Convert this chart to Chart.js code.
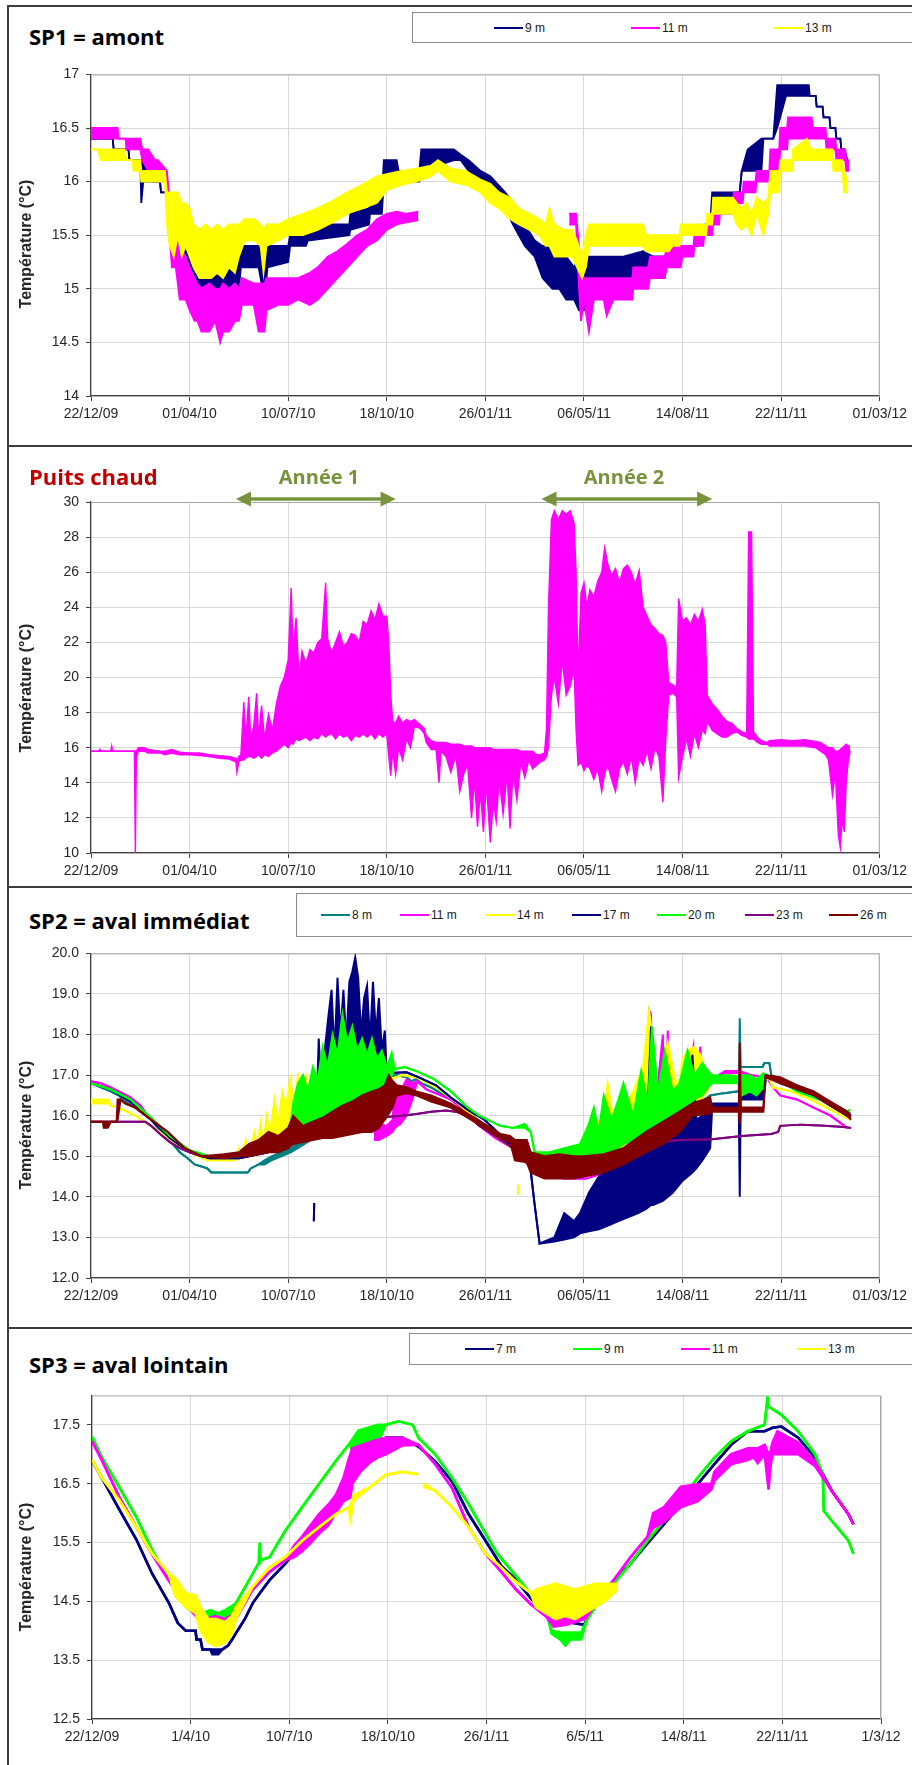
<!DOCTYPE html>
<html>
<head>
<meta charset="utf-8">
<script src="https://cdn.jsdelivr.net/npm/chart.js@4/dist/chart.umd.min.js"></script>
<style>
body{margin:0;background:#fff;}
#page{position:relative;width:912px;height:1765px;overflow:hidden;font-family:'Liberation Sans',Arial,sans-serif;}
.ln{position:absolute;background:#3c3c3c;}
canvas{position:absolute;}
.ttl{position:absolute;font-family:'Open Sans',sans-serif;font-weight:700;font-size:22px;line-height:1;white-space:nowrap;transform:translateY(-50%);z-index:2}
.ann{position:absolute;font-family:'Open Sans',sans-serif;font-weight:700;font-size:20px;line-height:1;white-space:nowrap;transform:translate(-50%,-50%);color:#77933C;z-index:2}
.ytl{position:absolute;font-weight:700;font-size:16px;line-height:1;white-space:nowrap;transform:translate(-50%,-50%) rotate(-90deg);color:#262626;z-index:2}
.lgb{position:absolute;border:1.5px solid #8c8c8c;box-sizing:border-box;background:#fff;z-index:2}
.sw{position:absolute;height:2px;width:29px;z-index:3}
.lt{position:absolute;font-size:12px;line-height:1;transform:translateY(-50%);color:#1a1a1a;z-index:3}
</style>
</head>
<body>
<div id="page">
  <div class="ln" style="left:8px;top:5px;width:904px;height:1.5px"></div>
  <div class="ln" style="left:7px;top:5px;width:1.5px;height:1760px"></div>
  <div class="ln" style="left:8px;top:445px;width:904px;height:1.5px"></div>
  <div class="ln" style="left:8px;top:886px;width:904px;height:1.5px"></div>
  <div class="ln" style="left:8px;top:1327px;width:904px;height:1.5px"></div>
  <canvas id="c1" width="912" height="367" style="left:0;top:59px"></canvas>
  <canvas id="c2" width="912" height="403" style="left:0;top:480px"></canvas>
  <canvas id="c3" width="912" height="370" style="left:0;top:938px"></canvas>
  <canvas id="c4" width="912" height="369" style="left:1px;top:1380px"></canvas>
</div>
<script>
// x values are days since 22/12/09, temperatures in degC
// [day, value] or [day, low, high] when the trace is a dense band
const dayTicks = [0, 100, 200, 300, 400, 500, 600, 700, 800];

// ---- SP1 = amont
const sp1Labels = ['9 m', '11 m', '13 m'];
const sp1Ticks = [14, 14.5, 15, 15.5, 16, 16.5, 17];
const sp1_9m = [[0,16.4],[22,16.4],[23,16.3],[38,16.3],[39,16.2],[50,16.2],[51,15.8,16.2],[53,16.0,16.2],[58,16.0,16.2],[62,16.0],[70,16.0],[71,15.9],[77,15.9],[79,15.5,15.9],[82,15.3,15.7],[90,15.3,15.6],[96,15.1,15.6],[100,15.1,15.5],[105,15.1,15.3],[110,14.9,15.3],[118,14.9,15.4],[125,14.9,15.3],[132,14.9,15.4],[138,15.0,15.3],[145,15.0,15.2],[150,15.0,15.3],[152,15.2,15.4],[170,15.2,15.4],[174,15.0,15.3],[177,15.0,15.3],[179,15.2,15.4],[200,15.25,15.4],[202,15.4,15.5],[218,15.4,15.55],[220,15.45,15.6],[262,15.5,15.6],[263,15.55,15.7],[282,15.6,15.75],[283,15.7,15.8],[295,15.7,15.85],[297,16.0,16.2],[310,16.0,16.2],[312,16.0,16.1],[333,16.0,16.1],[335,16.1,16.3],[368,16.2,16.3],[375,16.2,16.25],[383,16.1,16.2],[395,16.0,16.1],[405,15.95,16.05],[420,15.75,15.9],[428,15.6,15.8],[440,15.4,15.6],[450,15.3,15.45],[458,15.1,15.4],[468,15.0,15.4],[475,15.0,15.3],[482,14.9,15.3],[490,14.9,15.2],[495,14.8,15.3],[500,14.8,15.25],[503,15.1,15.3],[540,15.1,15.3],[560,15.1,15.35],[570,15.3],[598,15.3],[600,15.4],[615,15.4],[617,15.5],[622,15.5],[624,15.6],[628,15.6],[630,15.8,15.9],[652,15.8,15.9],[655,15.9],[658,15.9],[660,16.1],[666,16.1,16.3],[680,16.1,16.4],[682,16.4],[692,16.4],[696,16.5,16.9],[705,16.8,16.9],[728,16.8,16.9],[729,16.8],[735,16.8],[736,16.7],[742,16.7],[743,16.6],[749,16.6],[750,16.5],[755,16.5],[756,16.4],[760,16.4],[761,16.3],[764,16.3],[767,16.2]];
const sp1_11m = [[0,16.4,16.5],[27,16.4,16.5],[28,16.4],[35,16.4],[36,16.3,16.4],[50,16.3,16.4],[52,16.2,16.3],[58,16.1,16.3],[65,16.1,16.2],[68,16.0,16.2],[77,16.0,16.1],[79,15.6,15.9],[82,15.2,15.8],[86,15.2,15.5],[90,14.9,15.4],[96,14.9,15.3],[100,14.8,15.2],[105,14.7,15.1],[108,14.7,15.05],[112,14.6,15.0],[120,14.6,15.05],[126,14.7,15.0],[131,14.5,15.0],[134,14.6,15.05],[140,14.6,15.0],[146,14.7,15.05],[150,14.7,15.0],[153,14.85,15.1],[165,14.85,15.05],[170,14.6,15.05],[176,14.6,15.05],[178,14.8,15.1],[190,14.85,15.1],[200,14.85,15.1],[210,14.9,15.1],[222,14.85,15.15],[230,14.9,15.2],[240,15.0,15.3],[250,15.1,15.35],[260,15.2,15.42],[270,15.3,15.5],[280,15.4,15.55],[290,15.45,15.65],[300,15.55,15.7],[310,15.6,15.72],[320,15.62,15.7],[332,15.64,15.72],[333,null],[485,15.6,15.7],[492,15.6,15.7],[495,15.0,15.4],[497,14.7,15.2],[500,14.9,15.1],[505,14.6,15.1],[510,14.9,15.1],[520,14.9,15.1],[523,14.75,15.1],[530,14.9,15.1],[549,14.9,15.1],[550,15.0,15.2],[565,15.0,15.2],[567,15.1,15.3],[582,15.1,15.3],[584,15.2,15.4],[598,15.2,15.4],[600,15.3,15.4],[611,15.3,15.4],[612,15.4,15.5],[621,15.4,15.5],[622,15.5,15.6],[630,15.5,15.6],[631,15.6,15.7],[637,15.6,15.7],[638,15.7,15.8],[651,15.7,15.8],[652,15.8,15.9],[661,15.8,15.9],[662,15.9,16.0],[674,15.9,16.0],[675,16.0,16.1],[688,16.0,16.1],[689,16.1,16.3],[698,16.1,16.3],[699,16.3,16.5],[706,16.3,16.5],[707,16.4,16.6],[731,16.4,16.6],[732,16.4,16.5],[745,16.4,16.5],[746,16.3,16.4],[755,16.3,16.4],[756,16.2,16.3],[765,16.2,16.3],[766,16.1,16.2],[769,16.1,16.2]];
const sp1_13m = [[0,16.3],[7,16.3],[10,16.2,16.3],[34,16.2,16.3],[36,16.2],[42,16.2],[43,16.1,16.2],[50,16.1,16.2],[51,16.0,16.1],[75,16.0,16.1],[77,15.6,15.9],[80,15.4,15.9],[84,15.3,15.9],[88,15.5,15.9],[92,15.3,15.8],[96,15.4,15.8],[100,15.3,15.75],[104,15.2,15.6],[110,15.1,15.55],[116,15.1,15.6],[122,15.1,15.55],[128,15.15,15.6],[134,15.1,15.55],[140,15.2,15.6],[146,15.15,15.6],[150,15.3,15.6],[156,15.45,15.65],[166,15.45,15.65],[172,15.4,15.6],[175,15.15,15.55],[178,15.4,15.6],[190,15.45,15.6],[200,15.5,15.65],[215,15.5,15.7],[230,15.55,15.75],[245,15.62,15.82],[260,15.7,15.9],[275,15.75,15.97],[290,15.8,16.05],[300,15.92,16.07],[315,15.97,16.1],[330,16.0,16.12],[345,16.05,16.15],[352,16.1,16.2],[365,16.0,16.12],[380,15.97,16.1],[395,15.9,16.02],[405,15.8,15.98],[414,15.75,15.9],[425,15.65,15.85],[434,15.6,15.75],[445,15.55,15.7],[455,15.5,15.65],[461,15.4,15.6],[465,15.4,15.75],[470,15.3,15.6],[480,15.3,15.55],[488,15.3,15.55],[493,15.2,15.45],[498,15.1,15.3],[502,15.2,15.5],[505,15.4,15.6],[560,15.4,15.6],[563,15.35,15.5],[586,15.35,15.5],[590,15.4,15.5],[597,15.4,15.5],[598,15.5,15.6],[624,15.5,15.6],[625,15.6,15.7],[630,15.6,15.7],[631,15.7,15.85],[651,15.7,15.85],[655,15.6,15.8],[660,15.55,15.75],[665,15.6,15.8],[670,15.5,15.7],[675,15.7,15.85],[682,15.5,15.8],[687,15.7,15.85],[689,15.9,16.1],[698,15.9,16.1],[699,16.1,16.2],[711,16.1,16.2],[712,16.2,16.3],[726,16.2,16.4],[730,16.2,16.3],[752,16.2,16.3],[753,16.1,16.2],[762,16.1,16.2],[764,15.9,16.1],[767,15.9,16.0]];

// ---- Puits chaud
const pcTicks = [10, 12, 14, 16, 18, 20, 22, 24, 26, 28, 30];
const pc_11m = [[0,15.8],[8,15.8],[9,15.8,15.9],[11,15.8],[20,15.8],[21,15.8,16.1],[22,15.8],[44,15.8],[45,10.0,15.8],[46,15.4,15.8],[48,15.8,16.0],[54,15.8,16.0],[58,15.7,15.9],[70,15.7,15.8],[75,15.6,15.8],[82,15.7,15.9],[90,15.6,15.75],[100,15.6,15.7],[110,15.55,15.7],[120,15.5,15.6],[130,15.4,15.55],[140,15.35,15.5],[147,15.2,15.4],[148,14.6,15.3],[150,15.2,15.5],[152,15.3,15.6],[155,15.3,18.6],[157,15.4,16.4],[160,15.5,18.9],[162,15.5,16.5],[165,15.4,17.2],[168,15.5,19.1],[170,15.6,16.6],[173,15.4,18.4],[176,15.6,16.5],[180,15.5,17.9],[184,15.7,17.0],[188,15.8,18.5],[192,16.0,19.5],[196,16.2,20.0],[200,16.0,21.0],[203,16.3,25.1],[205,16.2,21.5],[208,16.5,23.4],[211,16.4,20.0],[214,16.5,21.5],[218,16.6,20.8],[222,16.4,21.6],[226,16.6,21.4],[230,16.5,22.0],[234,16.8,22.2],[238,16.6,25.4],[240,16.7,22.2],[244,16.8,21.4],[248,16.5,22.0],[252,16.8,22.6],[256,16.6,21.8],[260,16.7,22.0],[264,16.4,22.5],[268,16.7,22.4],[272,16.6,22.0],[276,16.8,23.2],[280,16.6,23.0],[284,16.8,23.8],[288,16.5,23.3],[292,16.8,24.2],[296,16.6,23.5],[300,16.8,23.5],[302,15.5,22.0],[304,14.4,19.0],[306,15.8,17.5],[309,14.5,17.4],[312,16.0,17.8],[316,15.3,17.4],[320,16.5,17.6],[324,16.0,17.5],[328,17.2,17.6],[334,17.1,17.3],[338,16.8,17.1],[340,16.3,16.7],[345,15.9,16.4],[350,15.9,16.3],[353,14.0,16.3],[355,15.8,16.3],[360,15.5,16.3],[365,14.6,16.2],[370,15.6,16.2],[374,13.5,16.2],[378,14.5,16.1],[382,15.0,16.1],[386,12.0,16.1],[389,14.2,16.0],[392,11.5,16.0],[395,13.5,16.0],[398,11.2,16.0],[401,14.0,16.0],[405,10.6,16.0],[408,13.0,15.9],[411,11.8,15.9],[414,14.2,15.9],[418,12.2,15.9],[422,14.5,15.9],[425,11.4,15.9],[428,14.6,15.9],[432,13.0,15.9],[436,15.2,15.8],[440,14.3,15.8],[444,15.3,15.8],[448,14.8,15.8],[452,15.0,15.6],[456,15.2,15.6],[460,15.3,15.7],[462,15.5,17.1],[464,16.0,24.0],[467,19.0,29.0],[470,20.0,29.5],[474,18.5,29.0],[478,21.0,29.5],[482,19.0,29.3],[486,19.5,29.5],[490,20.5,28.8],[492,17.0,26.0],[494,15.0,20.0],[497,15.2,24.8],[500,14.7,25.4],[503,15.0,24.0],[506,14.8,25.0],[510,14.2,24.6],[514,14.8,25.5],[518,13.5,26.0],[521,14.5,27.4],[524,15.0,26.5],[528,14.2,25.8],[532,13.5,26.2],[536,14.8,25.4],[540,15.2,26.2],[544,14.5,26.4],[548,15.5,26.0],[552,14.0,25.3],[556,15.4,26.1],[560,15.0,24.0],[564,15.8,23.5],[568,14.8,23.0],[572,16.0,22.8],[576,15.5,22.5],[580,12.9,22.4],[583,16.5,22.0],[586,19.0,19.7],[590,19.1,19.6],[594,18.9,19.4],[596,14.3,24.5],[600,15.5,23.2],[604,16.5,23.4],[608,15.5,23.0],[612,16.8,23.6],[616,16.0,23.2],[620,17.0,23.9],[623,16.8,23.0],[625,17.5,19.0],[630,17.0,18.5],[635,16.8,18.2],[640,16.6,17.8],[645,16.6,17.5],[650,16.8,17.4],[655,16.9,17.1],[660,16.7,16.9],[665,16.6,16.8],[667,16.5,28.3],[670,16.5,28.3],[672,16.5,16.9],[676,16.3,16.6],[680,16.2,16.4],[686,16.2,16.3],[688,16.1,16.4],[700,16.1,16.45],[712,16.1,16.4],[724,16.1,16.45],[735,16.0,16.35],[740,15.8,16.3],[745,15.6,16.1],[748,15.3,16.0],[752,13.3,16.0],[755,14.5,15.8],[758,11.0,15.8],[760,10.3,15.9],[762,12.0,16.0],[764,11.2,16.1],[766,14.0,16.2],[768,15.2,16.1],[770,15.8,16.1]];
const anneeSpans = [[147, 309], [457, 630]];
const anneeLabels = ['Année 1', 'Année 2'];

// ---- SP2 = aval immédiat
const sp2Labels = ['8 m', '11 m', '14 m', '17 m', '20 m', '23 m', '26 m'];
const sp2Ticks = [12, 13, 14, 15, 16, 17, 18, 19, 20];
const sp2_8m = [[0,16.8],[10,16.7],[20,16.6],[28,16.5],[36,16.35],[45,16.2],[53,16.05],[61,15.9],[68,15.7],[75,15.5],[83,15.3],[90,15.1],[98,14.95],[105,14.8],[112,14.75],[118,14.7],[122,14.6],[159,14.6],[162,14.7],[170,14.8],[176,14.8,14.9],[183,14.9,15.0],[193,15.0,15.1],[203,15.1,15.2],[213,15.25,15.35],[223,15.4,15.5],[232,15.6],[240,15.8],[250,16.0],[260,16.2],[270,16.45],[280,16.65],[290,16.85],[297,16.95],[310,17.0],[320,16.95],[325,16.85],[330,16.9],[335,16.8],[345,16.7],[355,16.55],[365,16.4],[375,16.25],[385,16.05],[395,15.85],[405,15.65],[415,15.45],[425,15.3],[440,15.05],[455,14.8],[470,14.7],[485,14.65],[500,14.65],[515,14.7],[530,14.85],[545,15.05],[560,15.25],[575,15.5],[590,15.75],[605,16.05],[620,16.35],[628,16.5],[640,16.55],[657,16.6],[658,16.6,18.4],[659,17.2],[681,17.2],[683,17.3],[688,17.3],[690,17.0],[700,16.9],[710,16.8],[720,16.7],[730,16.6],[740,16.45],[750,16.3],[760,16.2],[770,16.05]];
const sp2_11m = [[0,16.85],[10,16.8],[20,16.7],[28,16.6],[40,16.45],[50,16.25],[61,15.9],[75,15.6],[90,15.3],[98,15.15],[105,15.05],[112,15.0],[122,14.95],[150,14.95],[160,15.0],[180,15.15],[200,15.3],[215,15.45],[230,15.6],[245,15.85],[255,16.0],[265,16.2],[275,16.45],[285,16.7],[287,16.8],[288,15.4,16.8],[292,15.4,15.8],[300,15.5,15.75],[306,15.6,15.9],[308,15.7,16.8],[314,15.8,16.6],[320,16.0,16.9],[326,16.4,16.8],[331,16.85],[340,16.65],[350,16.55],[365,16.4],[380,16.1],[394,15.75],[410,15.45],[428,15.2],[445,14.9],[462,14.6],[479,14.45],[502,14.45],[515,14.55],[529,14.8],[545,15.1],[563,15.4],[566,15.6,18.6],[568,15.6,18.5],[570,15.6],[580,15.8,18.0],[582,15.8],[585,15.9,18.1],[587,16.0],[600,16.2],[611,16.4,17.7],[613,16.5],[618,16.5,17.7],[620,16.6],[630,16.9],[643,17.05,17.1],[658,17.05,17.1],[670,17.0],[685,16.95],[692,16.7],[699,16.5],[716,16.4],[733,16.2],[750,16.0],[767,15.7]];
const sp2_14m = [[0,16.3,16.4],[18,16.3,16.4],[20,16.25],[28,16.2],[45,16.0],[61,15.75],[75,15.5],[90,15.25],[105,15.05],[118,14.9],[145,14.9],[150,14.95,15.2],[152,15.0],[157,15.0,15.4],[160,15.05],[166,15.1,15.6],[168,15.15],[172,15.15,15.8],[175,15.2],[178,15.2,16.0],[182,15.3,15.6],[186,15.3,16.4],[190,15.4,15.8],[194,15.4,16.6],[198,15.45,16.2],[202,15.5,16.9],[206,15.55,16.3],[210,15.55,17.0],[214,15.6,16.6],[218,15.6,17.0],[222,15.65,16.5],[226,15.7,16.8],[230,15.8],[260,16.2],[280,16.55],[300,16.85],[315,17.0],[330,16.95],[350,16.7],[370,16.35],[394,15.85],[410,15.5],[428,15.2],[432,15.2],[432.5,null],[433,14.05],[433.4,14.3],[433.8,null],[434,15.2],[445,14.95],[460,14.85],[480,14.8],[495,14.8],[500,14.8,15.3],[510,14.85,15.6],[520,14.9,16.1],[524,14.95,16.8],[532,15.0,15.6],[540,15.1,16.2],[550,15.2,16.6],[560,15.3,17.2],[566,15.4,18.6],[570,15.5,17.8],[575,15.6,16.4],[585,15.8,17.8],[595,16.0,16.6],[600,16.1,17.4],[605,16.2,17.6],[612,16.3,17.7],[618,16.4,17.5],[625,16.6,17.0],[630,16.9],[688,16.9],[692,16.7],[710,16.6],[730,16.4],[750,16.15],[770,15.9]];
const sp2_17m = [[0,16.8],[20,16.65],[40,16.35],[61,15.9],[80,15.45],[100,15.1],[120,14.95],[150,14.95],[180,15.1],[200,15.25],[215,15.4],[225,15.5],[225.5,null],[226,13.4],[226.4,13.85],[226.8,null],[228,15.55],[231,15.55,17.9],[234,15.6,16.4],[237,15.6,17.6],[241,15.65,18.5],[244,15.7,19.1],[247,15.7,17.5],[250,15.75,19.4],[253,15.8,18.0],[256,15.8,19.1],[259,15.85,17.8],[262,15.9,19.3],[265,15.9,19.55],[268,15.95,19.9],[271,16.0,19.4],[274,16.0,18.0],[277,16.05,18.9],[280,16.1,19.2],[283,16.2,17.8],[286,16.3,19.3],[289,16.4,18.0],[292,16.5,18.9],[295,16.7,17.6],[298,16.9,18.1],[300,17.05],[320,17.07],[332,16.95],[350,16.75],[365,16.45],[382,16.15],[399,15.9],[410,15.65],[428,15.2],[440,15.0],[445,14.85],[450,13.8],[455,12.85],[470,12.9,13.0],[480,12.95,13.6],[490,13.0,13.4],[496,13.1,13.6],[505,13.15,14.1],[515,13.2,14.5],[525,13.3,14.7],[535,13.4,14.9],[545,13.5,15.0],[555,13.6,15.1],[563,13.7,15.2],[568,13.8,18.2],[570,13.8,15.3],[580,13.9,15.4],[590,14.1,15.5],[600,14.4,15.7],[610,14.6,17.5],[614,14.7,15.9],[620,14.9,16.0],[628,15.2,16.1],[630,16.2,16.3],[657,16.2,16.3],[658,14.0,16.3],[659,16.4,16.6],[682,16.4,16.6],[685,17.0],[700,16.8],[716,16.65],[733,16.5],[750,16.25],[770,15.95]];
const sp2_20m = [[0,16.8],[20,16.65],[40,16.4],[61,15.95],[80,15.5],[100,15.15],[120,15.0],[150,15.0],[180,15.15],[200,15.3],[205,15.35,16.3],[210,15.4,16.8],[215,15.45,17.0],[220,15.5,16.6],[225,15.55,17.2],[230,15.6,16.9],[235,15.7,17.7],[240,15.75,17.2],[245,15.8,18.0],[250,15.85,17.5],[255,15.9,18.5],[260,15.95,17.8],[265,16.0,18.2],[270,16.1,17.6],[275,16.15,17.9],[280,16.2,17.5],[285,16.3,17.9],[290,16.4,17.4],[295,16.5,17.6],[300,16.6,17.2],[305,17.0,17.55],[308,17.15],[318,17.2],[330,17.1],[348,16.9],[365,16.6],[382,16.2],[394,16.0],[415,15.75],[428,15.7],[440,15.7,15.8],[446,15.6],[450,15.1],[465,14.95,15.1],[480,14.85,15.2],[496,14.9,15.3],[505,14.95,15.8],[510,15.0,16.2],[515,15.05,15.6],[520,15.1,16.5],[528,15.15,15.9],[535,15.2,16.4],[540,15.3,16.8],[550,15.4,16.0],[558,15.5,17.1],[565,15.6,16.3],[569,15.7,18.2],[575,15.8,16.6],[582,15.9,17.6],[590,16.0,16.6],[597,16.05,16.8],[605,16.2,17.6],[612,16.4,17.0],[620,16.5,17.3],[626,16.7,17.1],[630,16.8,17.0],[650,16.8,17.0],[658,16.8,16.95],[660,16.5,17.0],[668,16.6,17.0],[675,16.5,16.9],[682,16.7,17.05],[686,17.0],[700,16.85],[716,16.6],[733,16.45],[750,16.3],[767,16.1],[770,16.15]];
const sp2_23m = [[0,15.85],[55,15.85],[61,15.75],[70,15.55],[80,15.35],[90,15.2],[100,15.1],[112,15.0],[150,15.0],[165,15.05],[180,15.15],[200,15.3],[220,15.55],[240,15.75],[260,15.85],[275,15.92],[290,15.95],[300,15.97],[315,16.0],[330,16.04],[345,16.1],[360,16.13],[370,16.1],[382,16.0],[394,15.75],[410,15.5],[428,15.2],[445,14.75],[455,14.6],[470,14.55],[496,14.5],[510,14.6],[529,14.8],[546,15.05],[563,15.3],[580,15.35],[597,15.4],[630,15.42],[660,15.5],[690,15.55],[697,15.6],[699,15.75],[720,15.78],[740,15.76],[760,15.73],[771,15.7]];
const sp2_26m = [[0,15.85],[12,15.85],[13,15.7,15.85],[17,15.7,15.85],[20,15.85],[26,15.85],[27,15.9,16.4],[30,16.4],[35,16.3],[45,16.2],[61,15.9],[78,15.6],[95,15.2],[112,15.0],[135,14.95,15.05],[150,15.0,15.1],[160,15.0,15.3],[170,15.05,15.4],[180,15.1,15.6],[190,15.1,15.5],[200,15.2,15.7],[205,15.3,16.0],[215,15.35,15.75],[225,15.4,15.85],[235,15.45,15.95],[245,15.45,16.1],[255,15.5,16.25],[265,15.55,16.35],[275,15.6,16.5],[285,15.6,16.6],[292,15.7,16.65],[298,15.9,16.75],[302,16.05,17.0],[306,16.2,16.85],[310,16.5,16.75],[320,16.55,16.7],[330,16.5,16.6],[345,16.35,16.5],[365,16.2,16.3],[382,15.95,16.05],[399,15.7,15.8],[415,15.45,15.55],[425,15.35,15.5],[430,14.9,15.4],[442,14.85,15.4],[446,14.6,15.1],[460,14.45,15.0],[475,14.45,15.05],[490,14.45,15.0],[500,14.5,15.0],[520,14.6,15.05],[540,14.8,15.2],[563,15.1,15.6],[580,15.3,15.85],[597,15.6,16.1],[610,16.0,16.3],[628,16.05,16.45],[630,16.1,16.2],[657,16.1,16.2],[658,15.8,17.8],[659,16.1,16.2],[682,16.1,16.2],[684,16.95,17.0],[699,16.8,16.95],[716,16.65,16.75],[733,16.5,16.6],[750,16.25,16.35],[767,16.0,16.1],[771,15.9,16.0]];

// ---- SP3 = aval lointain
const sp3Labels = ['7 m', '9 m', '11 m', '13 m'];
const sp3Ticks = [12.5, 13.5, 14.5, 15.5, 16.5, 17.5];
const sp3_7m = [[0,16.9],[10,16.6],[28,16.05],[45,15.55],[61,14.97],[78,14.47],[87,14.13],[95,14.0],[105,14.0],[106,13.85],[110,13.85],[112,13.68],[120,13.68],[122,13.6,13.68],[128,13.6,13.68],[132,13.68],[138,13.75],[142,13.85],[146,13.96],[155,14.2],[163,14.47],[172,14.68],[180,14.86],[196,15.14],[213,15.48],[230,15.81],[247,16.26],[264,16.77],[281,17.1],[298,17.28],[315,17.28],[331,17.13],[348,16.88],[365,16.54],[382,15.98],[399,15.53],[415,15.1],[428,14.9],[445,14.55],[462,14.25],[468,14.19],[499,14.1],[505,14.3],[513,14.6],[529,14.85],[546,15.14],[563,15.48],[580,15.81],[597,16.15],[614,16.49],[631,16.83],[648,17.16],[665,17.39],[682,17.39],[690,17.45],[699,17.47],[716,17.28],[733,16.94],[743,16.6],[750,16.38],[767,15.98],[772,15.81]];
const sp3_9m = [[0,17.3],[10,16.95],[28,16.43],[45,15.93],[61,15.37],[78,14.86],[95,14.41],[108,14.24],[112,14.1,14.3],[120,14.1,14.35],[128,14.15,14.3],[135,14.15,14.35],[140,14.2,14.4],[146,14.47],[163,14.97],[169,15.15],[170,15.15,15.5],[171,15.2],[180,15.25],[196,15.7],[213,16.1],[230,16.49],[247,16.88],[262,17.2],[264,16.9,17.25],[270,17.1,17.4],[280,17.15,17.45],[290,17.2,17.5],[298,17.5],[311,17.56],[325,17.5],[331,17.28],[348,17.0],[365,16.6],[382,16.15],[399,15.65],[411,15.31],[428,14.97],[445,14.63],[462,14.24],[466,13.95,14.0],[475,13.85,13.97],[480,13.75,13.97],[485,13.85,13.97],[496,13.85,13.97],[502,14.19],[513,14.47],[529,14.8],[546,15.14],[563,15.53],[580,15.87],[597,16.21],[614,16.6],[631,16.94],[648,17.22],[665,17.39],[682,17.5],[685,17.98],[686,17.8],[689,17.78],[699,17.67],[716,17.39],[733,17.0],[741,16.66],[742,16.04],[750,15.87],[767,15.53],[772,15.31]];
const sp3_11m = [[0,17.22],[10,16.9],[28,16.26],[45,15.76],[61,15.3],[78,14.85],[95,14.45],[108,14.2],[115,13.95,14.2],[125,13.9,14.25],[135,13.95,14.2],[146,14.2,14.3],[163,14.7],[180,15.0],[196,15.2],[205,15.25,15.45],[213,15.35,15.6],[222,15.5,15.8],[230,15.65,15.98],[240,15.8,16.15],[247,16.0,16.3],[255,16.2,16.6],[260,16.25,16.9],[262,16.26,17.0],[264,16.5,17.1],[272,16.7,17.15],[281,16.85,17.2],[290,16.95,17.25],[298,17.0,17.28],[315,17.15,17.28],[331,17.16],[348,16.83],[365,16.43],[382,15.76],[399,15.31],[415,15.0],[430,14.7],[445,14.45],[460,14.25],[468,14.07,14.6],[480,14.1,14.5],[490,14.15,14.6],[500,14.2,14.55],[513,14.5],[529,14.86],[546,15.25],[563,15.59],[569,15.75,16.0],[580,15.85,16.1],[597,16.1,16.45],[614,16.2,16.49],[628,16.4,16.5],[631,16.55,16.7],[648,16.83,17.0],[665,16.9,17.1],[671,16.95,17.1],[675,16.85,17.1],[682,17.0,17.16],[686,16.4,17.0],[688,16.8,17.05],[690,17.0,17.2],[695,17.0,17.39],[705,17.0,17.3],[716,17.0,17.2],[733,16.8,16.88],[750,16.38],[767,15.98],[772,15.81]];
const sp3_13m = [[0,16.91],[10,16.6],[28,16.21],[45,15.76],[61,15.31],[78,14.97],[84,14.6,14.9],[95,14.4,14.64],[105,14.3,14.6],[110,14.0,14.4],[118,13.8,14.2],[126,13.74,14.2],[135,13.8,14.15],[142,13.95,14.25],[146,14.2,14.41],[163,14.75],[180,15.08],[196,15.25],[213,15.53],[230,15.76],[247,15.98],[260,16.1],[262,15.9,16.1],[265,16.2,16.3],[281,16.43],[298,16.65],[315,16.7],[331,16.66],[332,null],[336,16.45,16.5],[348,16.38],[365,16.1],[382,15.76],[399,15.31],[411,15.14],[428,14.86],[445,14.64],[450,14.4,14.7],[460,14.3,14.75],[470,14.2,14.8],[480,14.25,14.75],[490,14.2,14.7],[500,14.3,14.75],[510,14.4,14.8],[520,14.5,14.8],[533,14.7,14.8]];

// ---------- drawing ----------
Chart.defaults.font.family = "'Liberation Sans', Arial, sans-serif";
Chart.defaults.font.size = 14;
Chart.defaults.color = '#262626';

const DAY0 = Date.UTC(2009, 11, 22);
function dayLabel(d, pad) {
  const t = new Date(DAY0 + d * 86400000);
  const p = n => String(n).padStart(2, '0');
  const dd = t.getUTCDate(), mm = t.getUTCMonth() + 1, yy = p(t.getUTCFullYear() % 100);
  return pad ? `${p(dd)}/${p(mm)}/${yy}` : `${dd}/${mm}/${yy}`;
}

// each series: a high trace filled down to its low trace
function buildDatasets(list, width) {
  const out = [];
  list.forEach((s, i) => {
    const base = { borderColor: s.color, backgroundColor: s.color, borderWidth: width,
      pointRadius: 0, tension: 0, order: list.length - i };
    out.push({ ...base, label: s.label, fill: '+1',
      data: s.pts.map(p => ({ x: p[0], y: p.length > 2 ? p[2] : p[1] })) });
    out.push({ ...base, label: s.label + ' min', fill: false,
      data: s.pts.map(p => ({ x: p[0], y: p[1] })) });
  });
  return out;
}

const plotFrame = {
  id: 'plotFrame',
  beforeDatasetsDraw(chart) {
    const a = chart.chartArea, c = chart.ctx;
    c.save();
    c.strokeStyle = '#a6a6a6';
    c.lineWidth = 1;
    c.beginPath();
    c.moveTo(a.left, a.top + 0.5);
    c.lineTo(a.right - 0.5, a.top + 0.5);
    c.lineTo(a.right - 0.5, a.bottom);
    c.stroke();
    c.restore();
  }
};

const anneeArrows = {
  id: 'anneeArrows',
  afterDraw(chart) {
    const c = chart.ctx, x = chart.scales.x, y = chart.chartArea.top - 3;
    c.save();
    c.strokeStyle = c.fillStyle = '#77933C';
    c.lineWidth = 3.5;
    anneeSpans.forEach(([a, b]) => {
      const x1 = x.getPixelForValue(a), x2 = x.getPixelForValue(b);
      c.beginPath(); c.moveTo(x1 + 10, y); c.lineTo(x2 - 10, y); c.stroke();
      c.beginPath(); c.moveTo(x1, y); c.lineTo(x1 + 15, y - 7.5); c.lineTo(x1 + 15, y + 7.5); c.closePath(); c.fill();
      c.beginPath(); c.moveTo(x2, y); c.lineTo(x2 - 15, y - 7.5); c.lineTo(x2 - 15, y + 7.5); c.closePath(); c.fill();
    });
    c.restore();
  }
};

function makeChart(id, series, width, yTicks, yMax, yFmt, padDate, padTop, extra) {
  new Chart(document.getElementById(id), {
    type: 'line',
    data: { datasets: buildDatasets(series, width) },
    options: {
      responsive: false,
      animation: false,
      events: [],
      layout: { padding: { left: 0, right: 32, top: padTop, bottom: 0 } },
      plugins: { legend: { display: false }, tooltip: { enabled: false } },
      scales: {
        x: {
          type: 'linear', min: 0, max: 800,
          afterBuildTicks: s => { s.ticks = dayTicks.map(v => ({ value: v })); },
          afterFit: s => { s.height = 30; },
          ticks: { callback: v => dayLabel(v, padDate), maxRotation: 0, autoSkip: false, padding: 5 },
          grid: { color: '#d9d9d9', tickColor: '#404040', tickLength: 5 },
          border: { color: '#404040', width: 1.2 }
        },
        y: {
          min: yTicks[0], max: yMax,
          afterBuildTicks: s => { s.ticks = yTicks.map(v => ({ value: v })); },
          afterFit: s => { s.width = 91; },
          ticks: { callback: yFmt, padding: 7 },
          grid: { color: '#d9d9d9', tickColor: '#404040', tickLength: 5 },
          border: { color: '#404040', width: 1.2 }
        }
      }
    },
    plugins: [plotFrame].concat(extra || [])
  });
}

makeChart('c1', [
  { label: sp1Labels[0], color: '#000080', pts: sp1_9m },
  { label: sp1Labels[1], color: '#FF00FF', pts: sp1_11m },
  { label: sp1Labels[2], color: '#FFFF00', pts: sp1_13m }
], 1.8, sp1Ticks, 17, v => String(v), true, 12);

makeChart('c2', [
  { label: '11 m', color: '#FF00FF', pts: pc_11m }
], 1.4, pcTicks, 30, v => String(v), true, 22, [anneeArrows]);

const sp2Colors = ['#008080', '#FF00FF', '#FFFF00', '#000080', '#00FF00', '#800080', '#800000'];
const sp2Data = [sp2_8m, sp2_11m, sp2_14m, sp2_17m, sp2_20m, sp2_23m, sp2_26m];
makeChart('c3', sp2Data.map((pts, i) => ({ label: sp2Labels[i], color: sp2Colors[i], pts })),
  2, sp2Ticks, 20, v => v.toFixed(1), true, 12);

const sp3Colors = ['#000080', '#00FF00', '#FF00FF', '#FFFF00'];
const sp3Data = [sp3_7m, sp3_9m, sp3_11m, sp3_13m];
makeChart('c4', sp3Data.map((pts, i) => ({ label: sp3Labels[i], color: sp3Colors[i], pts })),
  2.6, sp3Ticks, 18, v => v.toFixed(1), false, 12);

// ---------- titles, axis titles, legends ----------
const page = document.getElementById('page');
function add(cls, text, style) {
  const d = document.createElement('div');
  d.className = cls;
  if (text) d.textContent = text;
  Object.assign(d.style, style);
  page.appendChild(d);
  return d;
}
const panelTexts = [
  { title: 'SP1 = amont', color: '#000', ty: 36, yt: 244 },
  { title: 'Puits chaud', color: '#C00000', ty: 476, yt: 688 },
  { title: 'SP2 = aval immédiat', color: '#000', ty: 920, yt: 1125 },
  { title: 'SP3 = aval lointain', color: '#000', ty: 1364, yt: 1567 }
];
panelTexts.forEach(p => {
  add('ttl', p.title, { left: '29px', top: p.ty + 'px', color: p.color });
  add('ytl', 'Température (°C)', { left: '26px', top: p.yt + 'px' });
});
add('ann', anneeLabels[0], { left: '319px', top: '477px' });
add('ann', anneeLabels[1], { left: '624px', top: '477px' });

const legends = [
  { box: [412, 12, 31], labels: sp1Labels, colors: ['#000080', '#FF00FF', '#FFFF00'], sw: [494, 631, 774] },
  { box: [296, 893, 44], labels: sp2Labels, colors: sp2Colors, sw: [321, 400, 486, 572, 657, 745, 829] },
  { box: [409, 1333, 32], labels: sp3Labels, colors: sp3Colors, sw: [465, 573, 681, 797] }
];
legends.forEach(l => {
  const [x, y, h] = l.box;
  add('lgb', '', { left: x + 'px', top: y + 'px', width: (920 - x) + 'px', height: h + 'px' });
  const cy = y + h / 2;
  l.labels.forEach((t, i) => {
    add('sw', '', { left: l.sw[i] + 'px', top: (cy - 1) + 'px', background: l.colors[i] });
    add('lt', t, { left: (l.sw[i] + 31) + 'px', top: cy + 'px' });
  });
});
</script>
</body>
</html>
